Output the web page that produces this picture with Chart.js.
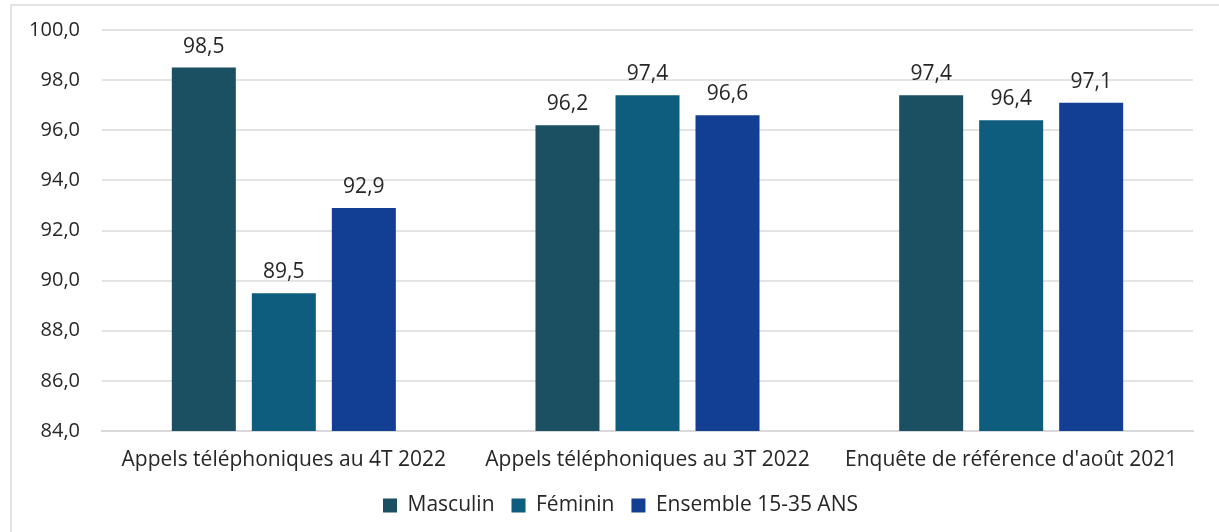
<!DOCTYPE html>
<html>
<head>
<meta charset="utf-8">
<script src="https://cdn.jsdelivr.net/npm/chart.js@4"></script>
<style>
  html, body { margin: 0; padding: 0; background: #fff; }
  #wrap { position: relative; width: 1219px; height: 532px; overflow: hidden; }
  #frame { position: absolute; left: 10px; top: 4px; width: 1230px; height: 560px;
           border: 2px solid #e3e3e3; box-sizing: border-box; }
  #c { position: absolute; left: 0; top: 0; }
</style>
</head>
<body>
<div id="wrap">
  <div id="frame"></div>
  <canvas id="c" width="1219" height="532"></canvas>
</div>
<script>
const categories = ["Appels téléphoniques au 4T 2022", "Appels téléphoniques au 3T 2022", "Enquête de référence d'août 2021"];
const masculin = [98.5, 96.2, 97.4];
const feminin = [89.5, 97.4, 96.4];
const ensemble = [92.9, 96.6, 97.1];
const seriesNames = ["Masculin", "Féminin", "Ensemble 15-35 ANS"];
const colors = ["#1b4f62", "#0e5c7e", "#133f93"];

const FONT = "'Open Sans', 'DejaVu Sans', sans-serif";
const fmt = v => v.toFixed(1).replace(".", ",");

// values above each bar
const barLabels = {
  id: "barLabels",
  afterDatasetsDraw(chart) {
    const ctx = chart.ctx;
    ctx.save();
    ctx.font = "21px " + FONT;
    ctx.fillStyle = "#262626";
    ctx.textAlign = "center";
    ctx.textBaseline = "middle";
    chart.data.datasets.forEach((ds, i) => {
      chart.getDatasetMeta(i).data.forEach((bar, j) => {
        ctx.fillText(fmt(ds.data[j]), bar.x, bar.y - 21);
      });
    });
    ctx.restore();
  }
};

// legend in the original sits a bit right of the canvas centre
const shiftLegend = {
  id: "shiftLegend",
  afterLayout(chart) {
    chart.legend.left += 24;
    chart.legend.right += 24;
    chart.legend.top += 2;
    chart.legend.bottom += 2;
  }
};

new Chart(document.getElementById("c"), {
  type: "bar",
  data: {
    labels: categories,
    datasets: [masculin, feminin, ensemble].map((d, i) => ({
      label: seriesNames[i],
      data: d,
      backgroundColor: colors[i],
      categoryPercentage: 0.66,
      barPercentage: 0.8
    }))
  },
  options: {
    responsive: false,
    animation: false,
    layout: { padding: { top: 30, right: 26, left: 0, bottom: 8 } },
    plugins: {
      legend: {
        position: "bottom",
        labels: {
          font: { family: FONT, size: 21 },
          color: "#262626",
          boxWidth: 14, boxHeight: 14,
          padding: 17
        }
      },
      tooltip: { enabled: false }
    },
    scales: {
      x: {
        afterFit: s => { s.height = 45; },
        grid: { display: false },
        border: { color: "#d9d9d9", width: 2 },
        ticks: { font: { family: FONT, size: 21 }, color: "#262626", padding: 8, maxRotation: 0 }
      },
      y: {
        min: 84, max: 100,
        afterFit: s => { s.width = 102; s.paddingTop = 0; s.paddingBottom = 0; },
        grid: { color: "#e3e3e3", lineWidth: 2, drawTicks: false },
        border: { display: false },
        ticks: { stepSize: 2, font: { family: FONT, size: 20 }, color: "#262626", padding: 22,
                 callback: v => fmt(v) }
      }
    }
  },
  plugins: [barLabels, shiftLegend]
});
</script>
</body>
</html>
